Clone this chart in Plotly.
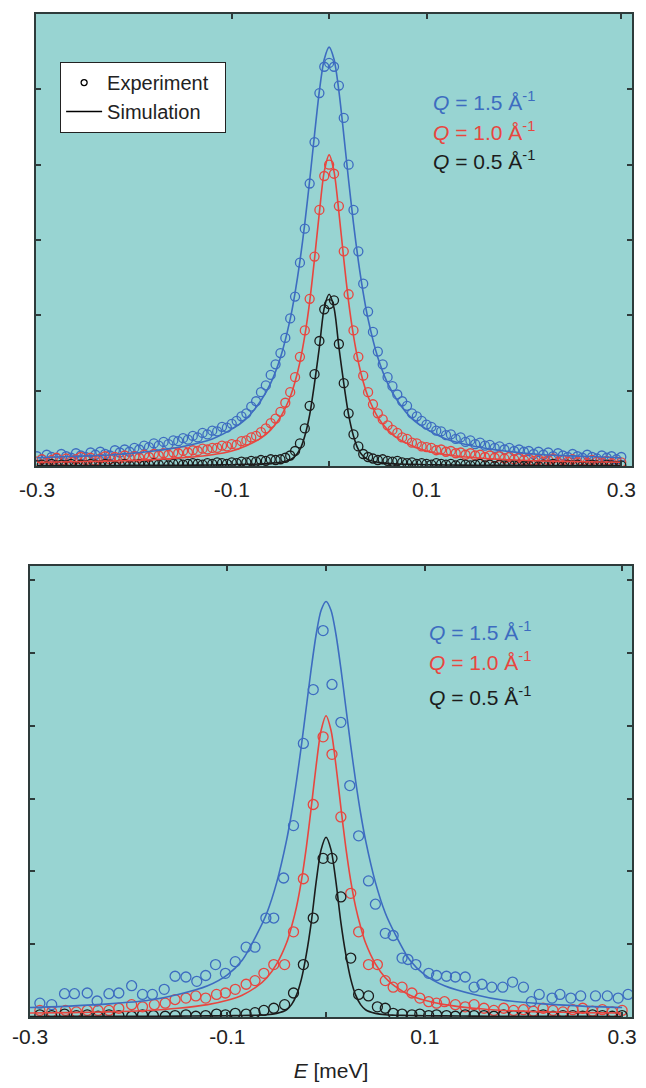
import plotly.graph_objects as go

# ---------------- data ----------------
# Top panel: experiment (dense), shared energy grid
x_top_exp = [-0.300, -0.295, -0.290, -0.285, -0.280, -0.275, -0.270, -0.265, -0.260, -0.255,
             -0.250, -0.245, -0.240, -0.235, -0.230, -0.225, -0.220, -0.215, -0.210, -0.205,
             -0.200, -0.195, -0.190, -0.185, -0.180, -0.175, -0.170, -0.165, -0.160, -0.155,
             -0.150, -0.145, -0.140, -0.135, -0.130, -0.125, -0.120, -0.115, -0.110, -0.105,
             -0.100, -0.095, -0.090, -0.085, -0.080, -0.075, -0.070, -0.065, -0.060, -0.055,
             -0.050, -0.045, -0.040, -0.035, -0.030, -0.025, -0.020, -0.015, -0.010, -0.005,
             0.000,
             0.005, 0.010, 0.015, 0.020, 0.025, 0.030, 0.035, 0.040, 0.045, 0.050,
             0.055, 0.060, 0.065, 0.070, 0.075, 0.080, 0.085, 0.090, 0.095, 0.100,
             0.105, 0.110, 0.115, 0.120, 0.125, 0.130, 0.135, 0.140, 0.145, 0.150,
             0.155, 0.160, 0.165, 0.170, 0.175, 0.180, 0.185, 0.190, 0.195, 0.200,
             0.205, 0.210, 0.215, 0.220, 0.225, 0.230, 0.235, 0.240, 0.245, 0.250,
             0.255, 0.260, 0.265, 0.270, 0.275, 0.280, 0.285, 0.290, 0.295, 0.300]

top_exp_q15 = [0.13, 0.09, 0.15, 0.12, 0.10, 0.16, 0.13, 0.11, 0.17, 0.14,
               0.12, 0.18, 0.15, 0.19, 0.16, 0.14, 0.21, 0.18, 0.22, 0.19,
               0.24, 0.22, 0.27, 0.25, 0.30, 0.27, 0.32, 0.29, 0.34, 0.33,
               0.37, 0.35, 0.40, 0.38, 0.44, 0.42, 0.47, 0.46, 0.52, 0.51,
               0.56, 0.60, 0.66, 0.70, 0.79, 0.86, 0.98, 1.07, 1.21, 1.35,
               1.50, 1.70, 1.96, 2.25, 2.70, 3.15, 3.75, 4.30, 4.95, 5.30,
               5.35,
               5.30, 5.05, 4.62, 4.00, 3.40, 2.85, 2.42, 2.05, 1.78, 1.52,
               1.35, 1.18, 1.06, 0.95, 0.86, 0.80, 0.70, 0.66, 0.60, 0.55,
               0.52, 0.47, 0.46, 0.41, 0.42, 0.36, 0.38, 0.32, 0.34, 0.29,
               0.31, 0.27, 0.28, 0.24, 0.26, 0.22, 0.24, 0.20, 0.22, 0.19,
               0.20, 0.16, 0.19, 0.15, 0.18, 0.13, 0.17, 0.14, 0.12, 0.16,
               0.13, 0.11, 0.15, 0.12, 0.10, 0.14, 0.11, 0.13, 0.09, 0.12]

top_exp_q10 = [0.06, 0.09, 0.05, 0.08, 0.11, 0.07, 0.10, 0.06, 0.09, 0.12,
               0.08, 0.11, 0.07, 0.10, 0.13, 0.09, 0.12, 0.10, 0.14, 0.11,
               0.13, 0.11, 0.15, 0.12, 0.16, 0.14, 0.17, 0.15, 0.18, 0.17,
               0.20, 0.18, 0.21, 0.20, 0.23, 0.22, 0.24, 0.24, 0.27, 0.26,
               0.29, 0.28, 0.33, 0.34, 0.38, 0.40, 0.45, 0.50, 0.57, 0.63,
               0.72, 0.84, 0.98, 1.18, 1.45, 1.80, 2.22, 2.78, 3.40, 3.85,
               4.00,
               3.88, 3.45, 2.85, 2.28, 1.80, 1.45, 1.20, 0.98, 0.82, 0.70,
               0.62, 0.54, 0.48, 0.44, 0.38, 0.36, 0.31, 0.30, 0.26, 0.25,
               0.24, 0.21, 0.22, 0.19, 0.20, 0.17, 0.18, 0.15, 0.17, 0.14,
               0.15, 0.12, 0.14, 0.11, 0.13, 0.10, 0.12, 0.09, 0.11, 0.08,
               0.10, 0.07, 0.09, 0.06, 0.08, 0.10, 0.05, 0.08, 0.06, 0.09,
               0.05, 0.07, 0.04, 0.08, 0.06, 0.05, 0.07, 0.04, 0.06, 0.05]

top_exp_q05 = [0.01, 0.02, 0.00, 0.03, 0.01, 0.02, 0.01, 0.03, 0.00, 0.02,
               0.01, 0.03, 0.02, 0.01, 0.03, 0.02, 0.00, 0.02, 0.03, 0.01,
               0.02, 0.03, 0.01, 0.02, 0.04, 0.02, 0.03, 0.01, 0.03, 0.04,
               0.02, 0.03, 0.04, 0.03, 0.02, 0.04, 0.03, 0.05, 0.04, 0.03,
               0.05, 0.04, 0.06, 0.05, 0.07, 0.06, 0.08, 0.07, 0.09, 0.08,
               0.09, 0.11, 0.14, 0.20, 0.30, 0.50, 0.80, 1.22, 1.66, 2.08,
               2.15,
               2.20, 1.62, 1.10, 0.70, 0.42, 0.26, 0.16, 0.12, 0.10, 0.08,
               0.09, 0.07, 0.06, 0.07, 0.05, 0.04, 0.05, 0.03, 0.04, 0.03,
               0.02, 0.04, 0.03, 0.02, 0.03, 0.01, 0.03, 0.02, 0.01, 0.02,
               0.03, 0.01, 0.02, 0.00, 0.02, 0.01, 0.03, 0.01, 0.02, 0.00,
               0.01, 0.02, 0.00, 0.02, 0.01, 0.03, 0.01, 0.00, 0.02, 0.01,
               0.02, 0.00, 0.01, 0.02, 0.01, 0.00, 0.02, 0.01, 0.00, 0.01]

# Simulation energy grid (shared by both panels)
x_sim = [-0.30, -0.26, -0.22, -0.18, -0.15, -0.12, -0.10, -0.085, -0.07, -0.06,
         -0.05, -0.04, -0.035, -0.03, -0.025, -0.02, -0.015, -0.01, -0.005,
         0.0,
         0.005, 0.01, 0.015, 0.02, 0.025, 0.03, 0.035, 0.04, 0.05,
         0.06, 0.07, 0.085, 0.10, 0.12, 0.15, 0.18, 0.22, 0.26, 0.30]

top_sim_q15 = [0.11, 0.13, 0.15, 0.20, 0.26, 0.36, 0.49, 0.63, 0.87, 1.10,
               1.44, 1.95, 2.30, 2.72, 3.22, 3.79, 4.40, 4.98, 5.40,
               5.56,
               5.40, 4.98, 4.40, 3.79, 3.22, 2.72, 2.30, 1.95, 1.44,
               1.10, 0.87, 0.63, 0.49, 0.36, 0.26, 0.20, 0.15, 0.13, 0.11]
top_sim_q10 = [0.05, 0.057, 0.067, 0.085, 0.11, 0.15, 0.20, 0.27, 0.37, 0.48,
               0.65, 0.92, 1.12, 1.38, 1.73, 2.18, 2.75, 3.37, 3.91,
               4.13,
               3.91, 3.37, 2.75, 2.18, 1.73, 1.38, 1.12, 0.92, 0.65,
               0.48, 0.37, 0.27, 0.20, 0.15, 0.11, 0.085, 0.067, 0.057, 0.05]
top_sim_q05 = [0.006, 0.007, 0.008, 0.009, 0.011, 0.014, 0.018, 0.022, 0.028, 0.035,
               0.05, 0.085, 0.13, 0.22, 0.40, 0.68, 1.10, 1.58, 2.10,
               2.28,
               2.10, 1.58, 1.10, 0.68, 0.40, 0.22, 0.13, 0.085, 0.05,
               0.035, 0.028, 0.022, 0.018, 0.014, 0.011, 0.009, 0.008, 0.007, 0.006]

# Bottom panel: experiment (sparser)
bot_x_q15 = [-0.290, -0.278, -0.265, -0.255, -0.242, -0.232, -0.220, -0.210, -0.197, -0.186,
             -0.176, -0.164, -0.153, -0.142, -0.131, -0.122, -0.112, -0.102, -0.092, -0.081,
             -0.072, -0.061, -0.053, -0.043, -0.033, -0.023, -0.013, -0.003,
             0.006, 0.015, 0.024, 0.033, 0.043, 0.050, 0.060, 0.068, 0.077, 0.083,
             0.091, 0.104, 0.112, 0.122, 0.131, 0.141, 0.150, 0.158, 0.168, 0.179,
             0.189, 0.200, 0.208, 0.216, 0.229, 0.237, 0.248, 0.258, 0.273, 0.285,
             0.296, 0.306]
bot_exp_q15 = [0.19, 0.17, 0.32, 0.32, 0.33, 0.22, 0.32, 0.33, 0.43, 0.31,
               0.31, 0.38, 0.56, 0.55, 0.49, 0.57, 0.72, 0.60, 0.76, 0.96,
               0.96, 1.36, 1.36, 1.91, 2.63, 3.76, 4.50, 5.31,
               4.57, 4.05, 3.18, 2.49, 1.87, 1.55, 1.15, 1.12, 0.81, 0.79,
               0.72, 0.60, 0.57, 0.56, 0.55, 0.55, 0.41, 0.45, 0.41, 0.41,
               0.48, 0.41, 0.21, 0.31, 0.26, 0.31, 0.26, 0.29, 0.29, 0.29,
               0.26, 0.31]

bot_x_q10 = [-0.290, -0.278, -0.264, -0.253, -0.242, -0.231, -0.220, -0.210, -0.197, -0.186,
             -0.174, -0.163, -0.153, -0.142, -0.132, -0.122, -0.111, -0.102, -0.092, -0.081,
             -0.072, -0.063, -0.053, -0.042, -0.033, -0.023, -0.013, -0.003,
             0.006, 0.015, 0.025, 0.033, 0.043, 0.052, 0.060, 0.068, 0.077, 0.087,
             0.095, 0.104, 0.112, 0.120, 0.131, 0.141, 0.150, 0.160, 0.170, 0.180,
             0.190, 0.200, 0.210, 0.220, 0.230, 0.240, 0.250, 0.260, 0.270, 0.280,
             0.290, 0.300]
bot_exp_q10 = [0.09, 0.07, 0.09, 0.07, 0.09, 0.09, 0.09, 0.12, 0.17, 0.14,
               0.17, 0.19, 0.24, 0.26, 0.29, 0.26, 0.31, 0.33, 0.38, 0.45,
               0.50, 0.60, 0.72, 0.72, 1.17, 1.90, 2.92, 3.85,
               3.61, 2.75, 1.70, 1.17, 0.72, 0.72, 0.50, 0.41, 0.41, 0.33,
               0.26, 0.21, 0.19, 0.21, 0.17, 0.14, 0.17, 0.12, 0.09, 0.12,
               0.09, 0.10, 0.08, 0.12, 0.09, 0.07, 0.10, 0.12, 0.08, 0.10,
               0.07, 0.09]

bot_x_q05 = [-0.290, -0.278, -0.265, -0.253, -0.242, -0.231, -0.220, -0.210, -0.197, -0.186,
             -0.175, -0.163, -0.153, -0.142, -0.132, -0.122, -0.111, -0.102, -0.092, -0.081,
             -0.072, -0.063, -0.053, -0.042, -0.033, -0.023, -0.013, -0.003,
             0.006, 0.015, 0.025, 0.033, 0.043, 0.052, 0.060, 0.068, 0.077, 0.087,
             0.095, 0.104, 0.112, 0.122, 0.131, 0.141, 0.150, 0.160, 0.170, 0.180,
             0.190, 0.200, 0.210, 0.220, 0.230, 0.240, 0.250, 0.260, 0.270, 0.280,
             0.290, 0.300]
bot_exp_q05 = [0.03, 0.02, 0.04, 0.02, 0.03, 0.01, 0.03, 0.02, 0.01, 0.03,
               0.02, 0.01, 0.02, 0.03, 0.01, 0.02, 0.04, 0.03, 0.05, 0.04,
               0.06, 0.09, 0.12, 0.17, 0.33, 0.72, 1.36, 2.18,
               2.18, 1.65, 0.81, 0.31, 0.29, 0.14, 0.12, 0.05, 0.04, 0.03,
               0.04, 0.02, 0.03, 0.02, 0.01, 0.03, 0.02, 0.02, 0.01, 0.03,
               0.02, 0.01, 0.02, 0.03, 0.01, 0.02, 0.02, 0.01, 0.03, 0.02,
               0.01, 0.02]

bot_sim_q15 = [0.13, 0.15, 0.18, 0.23, 0.31, 0.43, 0.58, 0.78, 1.14, 1.43,
               1.85, 2.43, 2.80, 3.24, 3.73, 4.26, 4.79, 5.26, 5.59,
               5.71,
               5.59, 5.26, 4.79, 4.26, 3.73, 3.24, 2.80, 2.43, 1.85,
               1.43, 1.14, 0.78, 0.58, 0.43, 0.31, 0.23, 0.18, 0.15, 0.13]
bot_sim_q10 = [0.055, 0.06, 0.07, 0.09, 0.12, 0.17, 0.23, 0.30, 0.42, 0.54,
               0.73, 1.02, 1.24, 1.51, 1.87, 2.33, 2.88, 3.46, 3.94,
               4.14,
               3.94, 3.46, 2.88, 2.33, 1.87, 1.51, 1.24, 1.02, 0.73,
               0.54, 0.42, 0.30, 0.23, 0.17, 0.12, 0.09, 0.07, 0.06, 0.055]
bot_sim_q05 = [0.007, 0.008, 0.009, 0.01, 0.012, 0.015, 0.017, 0.02, 0.025, 0.03,
               0.05, 0.10, 0.17, 0.30, 0.52, 0.86, 1.30, 1.86, 2.30,
               2.47,
               2.30, 1.86, 1.30, 0.86, 0.52, 0.30, 0.17, 0.10, 0.05,
               0.03, 0.025, 0.02, 0.017, 0.015, 0.012, 0.01, 0.009, 0.008, 0.007]

q_labels = ["1.5", "1.0", "0.5"]
x_tickvals = [-0.3, -0.1, 0.1, 0.3]
x_ticktext = ["-0.3", "-0.1", "0.1", "0.3"]
x_minor_ticks = [0.0]

# ---------------- style ----------------
BLUE = "#3d6cc0"
RED = "#e8463f"
BLACK = "#1c1c1c"
BG = "#98d4d2"
AXC = "#2e3b3b"
FONT = "Liberation Sans, Arial, sans-serif"
colors = [BLUE, RED, BLACK]

fig = go.Figure()

top_exp = [top_exp_q15, top_exp_q10, top_exp_q05]
top_sim = [top_sim_q15, top_sim_q10, top_sim_q05]
bot_xs = [bot_x_q15, bot_x_q10, bot_x_q05]
bot_exp = [bot_exp_q15, bot_exp_q10, bot_exp_q05]
bot_sim = [bot_sim_q15, bot_sim_q10, bot_sim_q05]

for c, ys in zip(colors, top_exp):
    fig.add_trace(go.Scatter(x=x_top_exp, y=ys, mode="markers", xaxis="x", yaxis="y",
                             marker=dict(symbol="circle-open", size=9, color=c, line=dict(width=1.3, color=c)),
                             showlegend=False, hoverinfo="skip"))
for c, ys in zip(colors, top_sim):
    fig.add_trace(go.Scatter(x=x_sim, y=ys, mode="lines", xaxis="x", yaxis="y",
                             line=dict(color=c, width=1.6, shape="spline", smoothing=0.8),
                             showlegend=False, hoverinfo="skip"))
for c, xs, ys in zip(colors, bot_xs, bot_exp):
    fig.add_trace(go.Scatter(x=xs, y=ys, mode="markers", xaxis="x2", yaxis="y2",
                             marker=dict(symbol="circle-open", size=10, color=c, line=dict(width=1.3, color=c)),
                             showlegend=False, hoverinfo="skip"))
for c, ys in zip(colors, bot_sim):
    fig.add_trace(go.Scatter(x=x_sim, y=ys, mode="lines", xaxis="x2", yaxis="y2",
                             line=dict(color=c, width=1.6, shape="spline", smoothing=0.8),
                             showlegend=False, hoverinfo="skip"))

# legend entries
fig.add_trace(go.Scatter(x=[None], y=[None], mode="markers", name="Experiment\u00a0\u00a0",
                         marker=dict(symbol="circle-open", size=6, color="black", line=dict(width=1.3))))
fig.add_trace(go.Scatter(x=[None], y=[None], mode="lines", name="Simulation",
                         line=dict(color="black", width=1.6)))

# Q annotations
ann = []
top_q_y = [4.85, 4.45, 4.06]
bot_q_y = [5.31, 4.89, 4.41]
for c, q, yt, yb in zip(colors, q_labels, top_q_y, bot_q_y):
    txt = f"<i>Q</i> = {q} Å<sup>-1</sup>"
    ann.append(dict(x=0.105, y=yt, xref="x", yref="y", text=txt, showarrow=False,
                    xanchor="left", yanchor="middle", font=dict(family=FONT, size=21, color=c)))
    ann.append(dict(x=0.102, y=yb, xref="x2", yref="y2", text=txt, showarrow=False,
                    xanchor="left", yanchor="middle", font=dict(family=FONT, size=21, color=c)))

axis_common = dict(showline=True, linecolor=AXC, linewidth=1.5, mirror="ticks",
                   ticks="inside", ticklen=5, tickwidth=1.5, tickcolor=AXC,
                   showgrid=False, zeroline=False)
minor_x = dict(tickmode="array", tickvals=x_minor_ticks, ticks="inside", ticklen=5,
               tickwidth=1.5, tickcolor=AXC, showgrid=False)

# page body has an 8px default margin: the figure is sized to fit the window
fig.update_layout(
    width=638, height=1080,
    margin=dict(l=21, r=14, t=4, b=71),
    paper_bgcolor="white", plot_bgcolor=BG,
    font=dict(family=FONT, size=21, color="#222"),
    xaxis=dict(domain=[0.01, 1], anchor="y", range=[-0.301, 0.311],
               tickvals=x_tickvals, ticktext=x_ticktext, ticklabelstandoff=4,
               tickfont=dict(size=21), minor=minor_x, **axis_common),
    yaxis=dict(domain=[0.5493, 1], anchor="x", range=[0, 6], tickvals=[1, 2, 3, 4, 5],
               showticklabels=False, **axis_common),
    xaxis2=dict(domain=[0, 1], anchor="y2", range=[-0.3, 0.31],
                tickvals=x_tickvals, ticktext=x_ticktext, ticklabelstandoff=0,
                tickfont=dict(size=21), minor=minor_x,
                title=dict(text="<i>E</i> [meV]", standoff=16, font=dict(size=21)), **axis_common),
    yaxis2=dict(domain=[0, 0.4498], anchor="x2", range=[0, 6.2], tickvals=[1, 2, 3, 4, 5, 6],
                showticklabels=False, **axis_common),
    legend=dict(x=0.0497, y=0.9523, xanchor="left", yanchor="top", bgcolor="white",
                bordercolor="#222", borderwidth=1.2, font=dict(family=FONT, size=20, color="#222"),
                itemwidth=36, tracegroupgap=0),
    annotations=ann,
    showlegend=True,
)

fig.write_html("out.html")
